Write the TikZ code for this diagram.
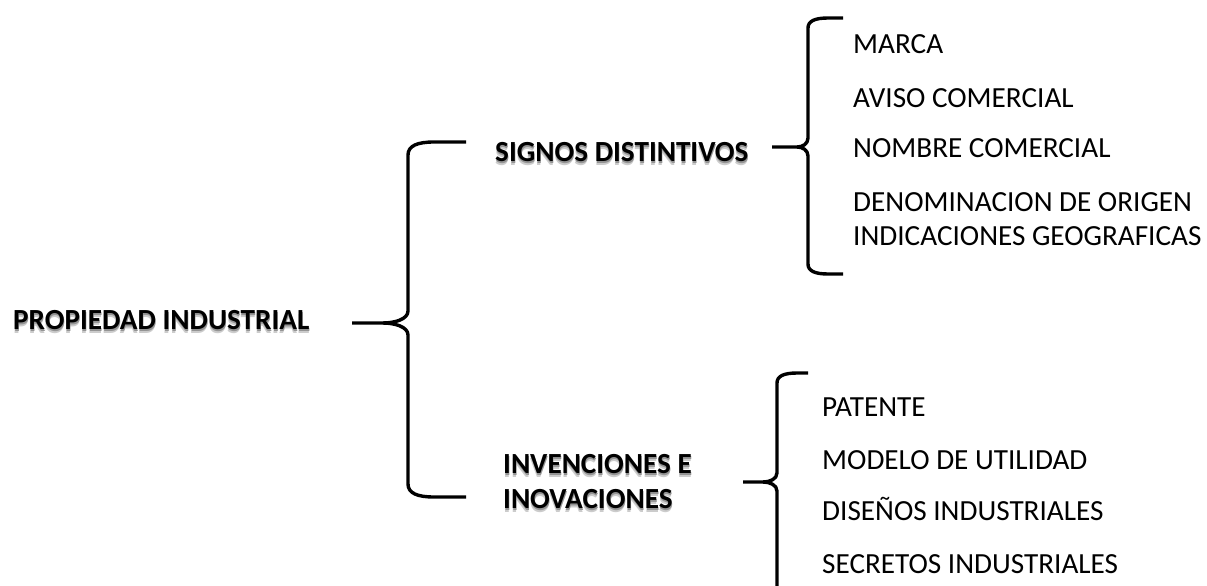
\documentclass[tikz,border=0pt]{standalone}
\usepackage{fontspec}
\setmainfont{Carlito}
\newcommand\shadowed[1]{%
  \rlap{\raisebox{-4pt}{\color{black!20}#1}}%
  \rlap{\hspace{0.5pt}\raisebox{-2pt}{\color{black!42}#1}}%
  #1}
\tikzset{
  bracestroke/.style={line width=3.4pt, line cap=butt, line join=round},
  item/.style={anchor=base west, inner sep=0pt, font=\fontsize{29.2}{34}\selectfont},
  head/.style={anchor=base west, inner sep=0pt, font=\fontsize{29.2}{34}\selectfont\bfseries},
}
% #1 xs, #2 xc, #3 xv, #4 xe, #5 ytop, #6 ymid, #7 ybot, #8 corner r, #9 mid r
\newcommand\mybrace[9]{%
  \draw[bracestroke] (#4,#5) -- ({#3+#8},#5)
    .. controls ({#3+0.35*#8},#5) and (#3,{#5+0.15*#8}) .. (#3,{#5+0.5*#8})
    -- (#3,{#6-#9})
    .. controls (#3,{#6-0.3*#9}) and ({#2+0.45*(#3-#2)},#6) .. (#2,#6)
    -- (#1,#6);
  \draw[bracestroke] (#2,#6)
    .. controls ({#2+0.45*(#3-#2)},#6) and (#3,{#6+0.3*#9}) .. (#3,{#6+#9})
    -- (#3,{#7-0.5*#8})
    .. controls (#3,{#7-0.15*#8}) and ({#3+0.35*#8},#7) .. ({#3+#8},#7)
    -- (#4,#7);
}
\begin{document}
\begin{tikzpicture}[x=1pt,y=-1pt]
\useasboundingbox (0,0) rectangle (1207,586);
\clip (0,0) rectangle (1207,586);
\fill[white] (0,0) rectangle (1207,586);

% braces
\mybrace{352}{383}{408}{466}{142}{323}{497}{26}{12}
\mybrace{772}{797}{808}{843}{18}{147}{274}{20}{9}
\mybrace{743}{763}{777}{808}{373}{482}{610}{20}{9}

% headings with soft shadow
\node[head] (root) at (13,329) {\shadowed{PROPIEDAD INDUSTRIAL}};
\node[head] (signos) at (495,161) {\shadowed{SIGNOS DISTINTIVOS}};
\node[head] (invA) at (503,473) {\shadowed{INVENCIONES E}};
\node[head] (invB) at (503,508) {\shadowed{INOVACIONES}};

% items
\node[item] (marca) at (853,53) {MARCA};
\node[item] (aviso) at (853,107) {AVISO COMERCIAL};
\node[item] (nombre) at (853,157) {NOMBRE COMERCIAL};
\node[item] (denom) at (853,211) {DENOMINACION DE ORIGEN};
\node[item] (indic) at (853,245) {INDICACIONES GEOGRAFICAS};

\node[item] (patente) at (822,416) {PATENTE};
\node[item] (modelo) at (822,469) {MODELO DE UTILIDAD};
\node[item] (disenos) at (822,520) {DISEÑOS INDUSTRIALES};
\node[item] (secretos) at (822,573) {SECRETOS INDUSTRIALES};
\end{tikzpicture}
\end{document}
